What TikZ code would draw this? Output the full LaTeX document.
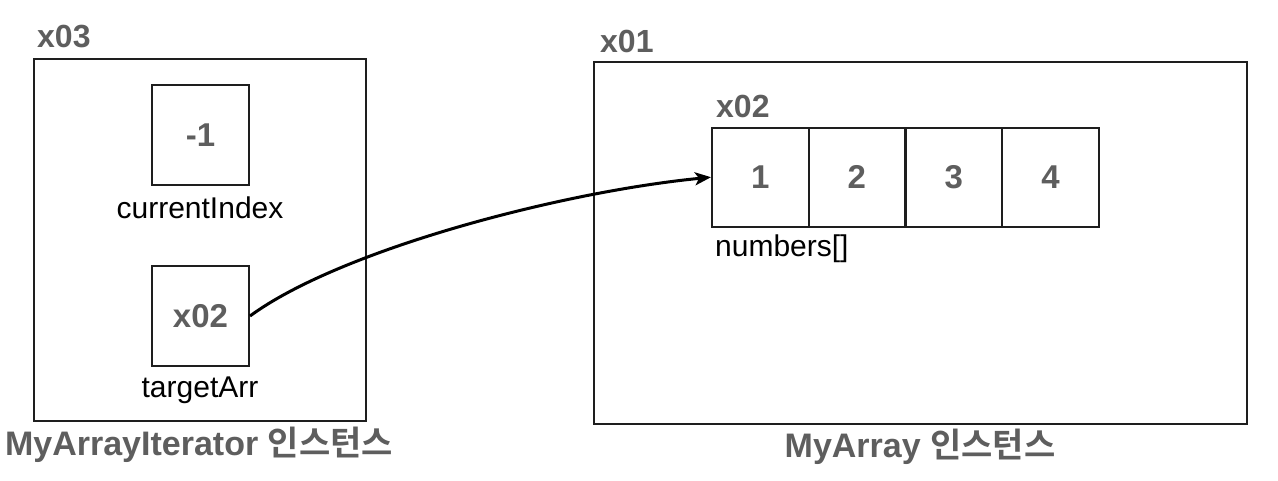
\documentclass[tikz,border=0pt]{standalone}
\usepackage{fontspec}
\setmainfont{Liberation Sans}
\newfontfamily\krfont{Noto Sans CJK KR}[BoldFont={Noto Sans CJK KR Bold}]
\usetikzlibrary{arrows.meta}
\definecolor{txtgray}{HTML}{5E5E5E}
\definecolor{linedark}{HTML}{1E1E1E}
\begin{document}
\begin{tikzpicture}[x=1pt,y=-1pt,
  frame/.style={draw=linedark, line width=2pt},
  valbox/.style={draw=linedark, line width=2pt, minimum width=97pt, minimum height=100pt, inner sep=0pt,
     font=\fontsize{33}{36}\selectfont\bfseries, text=txtgray},
  cellbox/.style={draw=linedark, line width=2pt, minimum width=96.6pt, minimum height=99pt, inner sep=0pt,
     font=\fontsize{33}{36}\selectfont\bfseries, text=txtgray},
  addr/.style={inner sep=0pt, anchor=base west, font=\fontsize{32}{36}\selectfont\bfseries, text=txtgray},
  varname/.style={inner sep=0pt, anchor=base, font=\fontsize{30}{34}\selectfont, text=black},
  caption/.style={inner sep=0pt, anchor=base, font=\fontsize{34}{38}\selectfont\bfseries, text=txtgray},
  ref/.style={line width=3pt, -{Stealth[length=16pt,width=13pt,inset=4pt]}}
]
\useasboundingbox (0,0) rectangle (1278,480);
% left instance
\node[frame, minimum width=332pt, minimum height=362pt, inner sep=0pt] (iter) at (200,240) {};
\node[addr] (a03) at (37,47) {x03};
\node[valbox] (idx) at (200.5,135) {-1};
\node[varname] (idxname) at (200,218) {currentIndex};
\node[valbox] (ptr) at (200.5,316) {x02};
\node[varname] (ptrname) at (200,397) {targetArr};
\node[caption] (itercap) at (199,455) {MyArrayIterator {\krfont\bfseries 인스턴스}};
% right instance
\node[frame, minimum width=653pt, minimum height=362pt, inner sep=0pt] (arr) at (920.5,243) {};
\node[addr] (a01) at (600,52) {x01};
\node[addr] (a02) at (716,117) {x02};
\node[cellbox] (c1) at (760.3,177.2) {1};
\node[cellbox] (c2) at (856.8,177.2) {2};
\node[cellbox] (c3) at (953.8,177.2) {3};
\node[cellbox] (c4) at (1050.5,177.2) {4};
\node[varname, anchor=base west] (numname) at (715,256) {numbers[]};
\node[caption] (arrcap) at (920,457) {MyArray {\krfont\bfseries 인스턴스}};
% reference arrow
\draw[ref] (ptr.east) .. controls (340,250) and (560,192) .. (c1.west);
\end{tikzpicture}
\end{document}
